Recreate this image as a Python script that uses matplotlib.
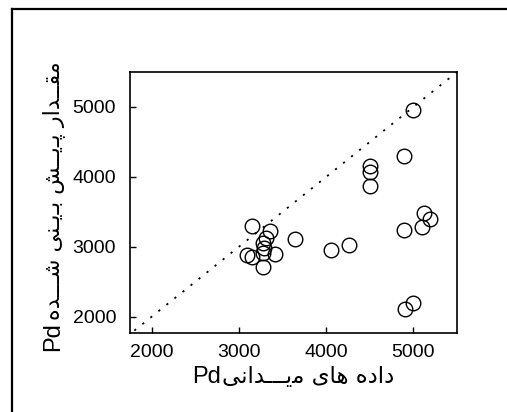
import matplotlib

matplotlib.use("Agg")
import matplotlib.pyplot as plt
from matplotlib.lines import Line2D

# Pd: field data (x) vs predicted (y)
pd_field = [5000, 4890, 4500, 4500, 4500, 5120, 5190, 5100, 4890, 3150,
            3360, 3310, 3280, 3290, 3640, 4060, 4260, 3410, 3090, 3150,
            3280, 3270, 5000, 4900]
pd_pred = [4950, 4300, 4160, 4070, 3870, 3480, 3390, 3280, 3240, 3300,
           3220, 3120, 3050, 2980, 3110, 2950, 3030, 2900, 2880, 2860,
           2910, 2710, 2200, 2110]
ref_line = [1800, 5500]
ticks = [2000, 3000, 4000, 5000]

# Persian labels, pre-shaped (presentation forms, left-to-right visual order)
# "داده های میــدانی"
xlabel_fa = ("\uFBFD\uFEE7\uFE8D\uFEAA\u0640\u0640\u0640\uFBFE\uFEE3 "
             "\uFBFC\uFE8E\uFEEB \uFEE9\uFEA9\uFE8D\uFEA9")
# "مقـدار پیــش بیـنی شــده"
ylabel_fa = ("\uFEE9\uFEAA\u0640\u0640\u0640\uFEB7 "
             "\uFBFD\uFEE8\u0640\uFBFE\u0640\uFE91 "
             "\uFEB6\u0640\u0640\uFBFE\u0640\uFB58 "
             "\uFEAD\uFE8D\uFEAA\u0640\u0640\uFED8\uFEE3")
label_sym = "Pd"

fig = plt.figure(figsize=(5.07, 4.12), dpi=100)
ax = fig.add_axes([0.2564, 0.1917, 0.645, 0.6335])

ax.plot(ref_line, ref_line, color="black", lw=1.3, linestyle=(0, (1.2, 4.5)))
ax.plot(pd_field, pd_pred, "o", ms=10.5, mfc="none", mec="black", mew=1.0)

ax.set_xlim(1750, 5500)
ax.set_ylim(1765, 5500)
ax.set_xticks(ticks)
ax.set_yticks(ticks)
ax.tick_params(direction="in", length=4, width=1, top=False, right=False,
               labelsize=14, pad=8)
ax.tick_params(axis="y", pad=10)
for lab in ax.get_xticklabels() + ax.get_yticklabels():
    lab.set_fontfamily("Liberation Sans")
for sp in ax.spines.values():
    sp.set_linewidth(1.2)

# x label: Pd + Persian text
fig.text(222 / 507, 1 - 383 / 412, xlabel_fa, fontsize=16.5,
         family="DejaVu Sans", ha="left", va="baseline")
fig.text(221 / 507, 1 - 383 / 412, label_sym, fontsize=17,
         family="Liberation Sans", ha="right", va="baseline")

# y label (rotated): Pd at the bottom, Persian text above it
fig.text(65 / 507, 1 - 320 / 412, ylabel_fa, fontsize=16, rotation=90,
         family="DejaVu Sans", ha="right", va="bottom")
fig.text(64 / 507, 1 - 322 / 412, label_sym, fontsize=17, rotation=90,
         family="Liberation Sans", ha="right", va="top")

# outer frame (left and top edges)
fig.add_artist(Line2D([11.5 / 507, 11.5 / 507], [0, 1 - 8.5 / 412],
                      transform=fig.transFigure, color="black", lw=1.6))
fig.add_artist(Line2D([11.5 / 507, 1], [1 - 8.5 / 412, 1 - 8.5 / 412],
                      transform=fig.transFigure, color="black", lw=1.6))

fig.savefig("out.png", dpi=100)
